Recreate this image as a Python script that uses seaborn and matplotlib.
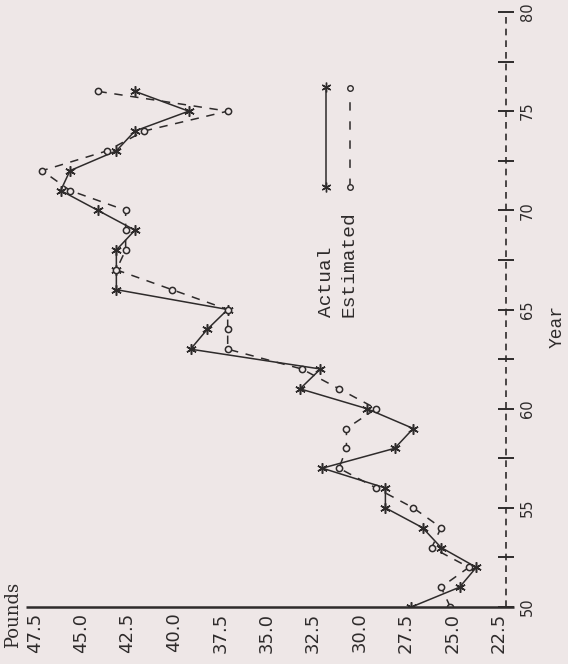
import numpy as np
import pandas as pd
import matplotlib
matplotlib.use("Agg")
import matplotlib.pyplot as plt
import seaborn as sns

# ─── Data ────────────────────────────────────────────────────────────────────
YEARS = list(range(50, 77))
ACTUAL = [27.2, 24.6, 23.7, 25.6, 26.6, 28.6, 28.6, 32.0, 28.1, 27.1,
          29.6, 33.2, 32.1, 39.1, 38.2, 37.1, 43.1, 43.1, 43.1, 42.1,
          44.1, 46.1, 45.6, 43.1, 42.1, 39.2, 42.1]
ESTIMATED = [25.1, 25.6, 24.1, 26.1, 25.6, 27.1, 29.1, 31.1, 30.7, 30.7,
             29.1, 31.1, 33.1, 37.1, 37.1, 37.1, 40.1, 43.1, 42.6, 42.6,
             42.6, 45.6, 47.1, 43.6, 41.6, 37.1, 44.1]
POUND_TICKS = [47.5, 45.0, 42.5, 40.0, 37.5, 35.0, 32.5, 30.0, 27.5, 25.0, 22.5]
YEAR_TICKS = np.arange(50, 80.1, 2.5)
YEAR_LABELS = ["50", "", "55", "", "60", "", "65", "", "70", "", "75", "", "80"]

BG = "#eee7e7"
INK = "#2e2b2b"

df = pd.DataFrame({
    "year": YEARS * 2,
    "pounds": ACTUAL + ESTIMATED,
    "series": ["Actual"] * len(YEARS) + ["Estimated"] * len(YEARS),
})

sns.set_theme(style="white", rc={"figure.facecolor": BG, "axes.facecolor": BG})

fig = plt.figure(figsize=(5.68, 6.64), dpi=100)
W, H = 568, 664
# axes box in pixels: left 26, right 506, bottom 607, top 12
ax = fig.add_axes([26 / W, 1 - 607 / H, 480 / W, 595 / H])

styles = {
    "Actual": dict(marker=(6, 2, 0), markersize=7.5, dashes=None),
    "Estimated": dict(marker="o", markersize=4.5, dashes=(5.5, 5)),
}
for name, st in styles.items():
    sub = df[df["series"] == name]
    kw = dict(color=INK, lw=1.1, marker=st["marker"], markersize=st["markersize"],
              markeredgecolor=INK, markerfacecolor=BG, markeredgewidth=1.1)
    if st["dashes"]:
        kw["dashes"] = st["dashes"]
    sns.lineplot(data=sub, x="pounds", y="year", sort=False, estimator=None,
                 ax=ax, legend=False, **kw)

ax.set_xlim(47.97, 22.10)
ax.set_ylim(50, 80)

# no spines; axes drawn as plain lines
for s in ax.spines.values():
    s.set_visible(False)
# pounds axis (horizontal, solid), runs a little past the year axis
ax.plot([0, 1.017], [0, 0], transform=ax.transAxes, color=INK, lw=1.8,
        solid_capstyle="butt", clip_on=False)
# year axis (vertical, dashed)
ax.plot([1, 1], [0, 1], transform=ax.transAxes, color=INK, lw=1.2,
        dashes=(4, 3), clip_on=False)

ax.set_xticks(POUND_TICKS)
ax.set_xticklabels([f"{p:.1f}" for p in POUND_TICKS])
ax.tick_params(axis="x", bottom=False, top=False, length=0, pad=4,
               labelrotation=90, labelsize=13, labelcolor=INK)

ax.yaxis.tick_right()
ax.set_yticks(YEAR_TICKS)
ax.set_yticklabels(YEAR_LABELS)
ax.tick_params(axis="y", left=False, labelleft=False, right=True, labelright=True,
               direction="inout", length=12, width=1.4, color=INK,
               pad=4, labelrotation=90, labelsize=10.5, labelcolor=INK)
for lab in ax.get_yticklabels():
    lab.set_verticalalignment("center")

ax.set_xlabel("")
ax.set_ylabel("")

# legend drawn by hand, rotated like the page
ax.plot([0.626, 0.626], [0.706, 0.874], transform=ax.transAxes, color=INK, lw=1.1,
        marker=(6, 2, 0), markersize=7, markeredgecolor=INK, markeredgewidth=1.0)
ax.plot([0.676, 0.676], [0.706, 0.872], transform=ax.transAxes, color=INK, lw=1.1,
        dashes=(5.5, 7), marker="o", markersize=4, markeredgecolor=INK,
        markerfacecolor=BG, markeredgewidth=1.0)
ax.text(0.627, 0.487, "Actual", transform=ax.transAxes, rotation=90,
        ha="center", va="bottom", family="Liberation Mono", fontsize=14, color=INK)
ax.text(0.673, 0.487, "Estimated", transform=ax.transAxes, rotation=90,
        ha="center", va="bottom", family="Liberation Mono", fontsize=14, color=INK)

fig.text(13 / W, 1 - 615 / H, "Pounds", rotation=90, ha="center", va="center",
         family="DejaVu Serif", fontsize=13, color=INK)
fig.text(557 / W, 1 - 326 / H, "Year", rotation=90, ha="center", va="center",
         family="Liberation Mono", fontsize=13, color=INK)

fig.savefig("out.png", dpi=100, facecolor=BG)
